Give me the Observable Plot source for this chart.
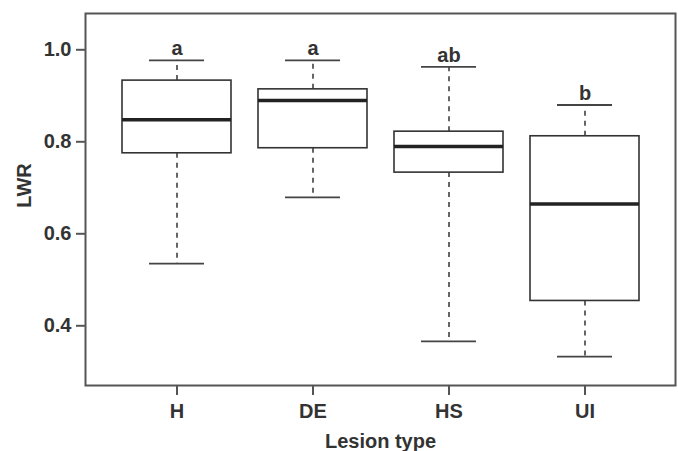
<!DOCTYPE html>
<html>
<head>
<meta charset="utf-8">
<script src="https://cdn.jsdelivr.net/npm/d3@7"></script>
<script src="https://cdn.jsdelivr.net/npm/@observablehq/plot@0.6"></script>
<style>
  html, body { margin: 0; padding: 0; background: #fff; }
</style>
</head>
<body>
<div id="chart"></div>
<script>
const categories = ["H", "DE", "HS", "UI"];
const lowerWhisker = [0.535, 0.679, 0.366, 0.333];
const q1 = [0.775, 0.786, 0.733, 0.454];
const median = [0.848, 0.890, 0.790, 0.665];
const q3 = [0.933, 0.914, 0.822, 0.812];
const upperWhisker = [0.977, 0.977, 0.963, 0.880];
const letters = ["a", "a", "ab", "b"];
const yTicks = [0.4, 0.6, 0.8, 1.0];
const yTitle = "LWR";
const xTitle = "Lesion type";

const rows = categories.map((c, i) => ({
  cat: c, lo: lowerWhisker[i], q1: q1[i], med: median[i], q3: q3[i], hi: upperWhisker[i], letter: letters[i]
}));

const ink = "#333";
const fs = 20;
const chart = Plot.plot({
  width: 678,
  height: 451,
  marginLeft: 85,
  marginRight: 3,
  marginTop: 13,
  marginBottom: 66,
  style: { fontFamily: "'Liberation Sans', Arial, sans-serif", fontSize: fs + "px", fontWeight: "bold", color: ink, background: "#fff" },
  x: { domain: categories, type: "band", paddingInner: 0.2, paddingOuter: 0.261 },
  y: { domain: [0.2702, 1.0789] },
  marks: [
    Plot.ruleX(rows, { x: "cat", y1: "q3", y2: "hi", stroke: "#333", strokeWidth: 1.5, strokeDasharray: "5,5" }),
    Plot.ruleX(rows, { x: "cat", y1: "q1", y2: "lo", stroke: "#333", strokeWidth: 1.5, strokeDasharray: "5,5" }),
    Plot.tickY(rows, { x: "cat", y: "hi", stroke: "#444", strokeWidth: 1.8, insetLeft: 27, insetRight: 27 }),
    Plot.tickY(rows, { x: "cat", y: "lo", stroke: "#444", strokeWidth: 1.8, insetLeft: 27, insetRight: 27 }),
    Plot.barY(rows, { x: "cat", y1: "q1", y2: "q3", fill: "#fff", stroke: "#333", strokeWidth: 1.6 }),
    Plot.tickY(rows, { x: "cat", y: "med", stroke: "#222", strokeWidth: 3.5 }),
    Plot.text(rows, { x: "cat", y: "hi", text: "letter", lineAnchor: "bottom", dy: -5, fill: ink, fontSize: fs, fontWeight: "bold" }),
    Plot.frame({ stroke: "#555", strokeWidth: 2 }),
    Plot.axisY({ ticks: yTicks, tickFormat: d3.format(".1f"), tickSize: 9, tickPadding: 5, stroke: "#555", strokeWidth: 2,
      label: null, fontSize: fs }),
    Plot.axisX({ tickSize: 10, tickPadding: 8, stroke: "#555", strokeWidth: 2,
      label: null, fontSize: fs }),
    Plot.text([yTitle], { text: d => d, frameAnchor: "left", textAnchor: "middle", rotate: -90, dx: -61, dy: -14, fill: ink, fontSize: fs, fontWeight: "bold" }),
    Plot.text([xTitle], { text: d => d, frameAnchor: "bottom", textAnchor: "middle", lineAnchor: "bottom", dy: 62, fill: ink, fontSize: fs, fontWeight: "bold" })
  ]
});
document.getElementById("chart").appendChild(chart);
</script>
</body>
</html>
